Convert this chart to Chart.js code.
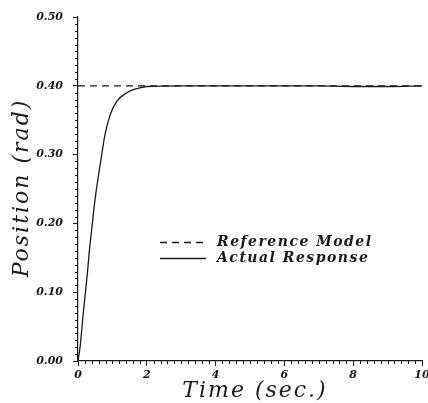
<!DOCTYPE html>
<html>
<head>
<meta charset="utf-8">
<script src="https://cdn.jsdelivr.net/npm/chart.js@4.4.1/dist/chart.umd.min.js"></script>
<style>
html,body{margin:0;padding:0;background:#fff;overflow:hidden;}
#wrap{position:relative;width:428px;height:403px;}
</style>
</head>
<body>
<div id="wrap"><canvas id="c" width="428" height="403"></canvas></div>
<script>
// ---- data ----
const timeActual = [0, 0.06, 0.15, 0.27, 0.33, 0.40, 0.46, 0.52, 0.59, 0.69, 0.78, 0.93, 1.12, 1.42, 1.71, 2.0, 3, 4, 5, 6, 7, 8, 9, 10];
const posActual  = [0, 0.020, 0.068, 0.126, 0.160, 0.192, 0.220, 0.244, 0.268, 0.300, 0.328, 0.357, 0.377, 0.390, 0.396, 0.399, 0.400, 0.400, 0.400, 0.400, 0.400, 0.399, 0.399, 0.400];
const timeRef = [0, 10];
const posRef  = [0.40, 0.40];
const seriesNames = ['Reference Model', 'Actual Response'];
const xTitle = 'Time (sec.)';
const yTitle = 'Position (rad)';

const serif = '"DejaVu Serif", "Liberation Serif", serif';
const ink = '#1a1a1a';

const decor = {
  id: 'decor',
  afterDraw(chart) {
    const ctx = chart.ctx;
    const xs = chart.scales.x, ys = chart.scales.y;
    ctx.save();
    ctx.strokeStyle = ink;
    ctx.lineWidth = 1;
    // minor ticks on y
    for (let i = 0; i <= 50; i++) {
      if (i % 10 === 0) continue;
      const y = Math.round(ys.getPixelForValue(i / 100)) + 0.5;
      ctx.beginPath(); ctx.moveTo(xs.left - 3, y); ctx.lineTo(xs.left, y); ctx.stroke();
    }
    // minor ticks on x
    for (let i = 0; i <= 50; i++) {
      if (i % 10 === 0) continue;
      const x = Math.round(xs.getPixelForValue(i / 5)) + 0.5;
      ctx.beginPath(); ctx.moveTo(x, ys.bottom); ctx.lineTo(x, ys.bottom + 3); ctx.stroke();
    }
    ctx.fillStyle = ink;
    ctx.font = 'italic 22px ' + serif;
    ctx.letterSpacing = '2px';
    ctx.textAlign = 'center';
    ctx.textBaseline = 'middle';
    // x title
    ctx.fillText(xTitle, 255, 391);
    // y title
    ctx.translate(22, 188);
    ctx.rotate(-Math.PI / 2);
    ctx.fillText(yTitle, 0, 0);
    ctx.restore();

    // legend
    ctx.save();
    ctx.strokeStyle = ink;
    ctx.lineWidth = 1.3;
    ctx.setLineDash([7, 5]);
    ctx.beginPath(); ctx.moveTo(160, 242.5); ctx.lineTo(206, 242.5); ctx.stroke();
    ctx.setLineDash([]);
    ctx.beginPath(); ctx.moveTo(160, 258.5); ctx.lineTo(206, 258.5); ctx.stroke();
    ctx.fillStyle = ink;
    ctx.font = 'italic bold 14px ' + serif;
    ctx.letterSpacing = '1.5px';
    ctx.textAlign = 'left';
    ctx.textBaseline = 'middle';
    ctx.fillText(seriesNames[0], 217, 242);
    ctx.fillText(seriesNames[1], 217, 258);
    ctx.restore();
  }
};

new Chart(document.getElementById('c'), {
  type: 'scatter',
  data: {
    datasets: [
      {
        label: seriesNames[0],
        data: timeRef.map((t, i) => ({x: t, y: posRef[i]})),
        showLine: true, borderColor: ink, borderWidth: 1.3, borderDash: [7, 5],
        pointRadius: 0, fill: false
      },
      {
        label: seriesNames[1],
        data: timeActual.map((t, i) => ({x: t, y: posActual[i]})),
        showLine: true, borderColor: ink, borderWidth: 1.3,
        cubicInterpolationMode: 'monotone',
        pointRadius: 0, fill: false
      }
    ]
  },
  options: {
    responsive: false,
    animation: false,
    layout: {padding: {top: 17, right: 0, left: 0, bottom: 0}},
    plugins: {legend: {display: false}, tooltip: {enabled: false}},
    scales: {
      x: {
        type: 'linear', min: 0, max: 10,
        afterFit(s) { s.height = 42; s.paddingRight = 6; },
        border: {display: true, color: ink, width: 1.2},
        grid: {drawOnChartArea: false, drawTicks: true, tickLength: 5, color: ink},
        ticks: {stepSize: 2, color: ink, padding: 3, maxRotation: 0,
                font: {family: serif, size: 11, style: 'italic', weight: 'bold'}},
        title: {display: false}
      },
      y: {
        type: 'linear', min: 0, max: 0.5,
        afterFit(s) { s.width = 78; },
        border: {display: true, color: ink, width: 1.2},
        grid: {drawOnChartArea: false, drawTicks: true, tickLength: 5, color: ink},
        ticks: {stepSize: 0.1, color: ink, padding: 10,
                callback: v => v.toFixed(2),
                font: {family: serif, size: 11, style: 'italic', weight: 'bold'}}
      }
    }
  },
  plugins: [decor]
});
</script>
</body>
</html>
